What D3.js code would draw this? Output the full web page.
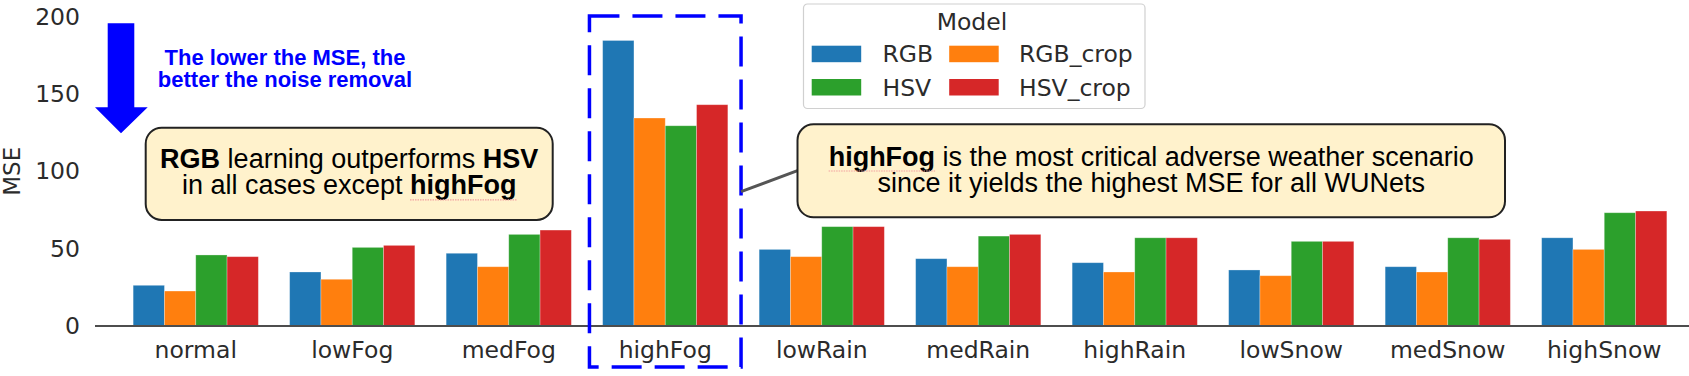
<!DOCTYPE html>
<html>
<head>
<meta charset="utf-8">
<script src="https://cdn.jsdelivr.net/npm/d3@7"></script>
<style>
  html, body { margin: 0; padding: 0; background: #fff; }
  svg { display: block; }
</style>
</head>
<body>
<svg id="chart" width="1689" height="376"></svg>
<script>
// ---- data ----
const categories = ["normal", "lowFog", "medFog", "highFog", "lowRain", "medRain", "highRain", "lowSnow", "medSnow", "highSnow"];
const seriesNames = ["RGB", "RGB_crop", "HSV", "HSV_crop"];
const seriesColors = ["#1f77b4", "#ff7f0e", "#2ca02c", "#d62728"];
const RGB      = [26.3, 34.9, 47.0, 184.5, 49.5, 43.5, 40.9, 36.2, 38.3, 57.0];
const RGB_crop = [22.6, 30.2, 38.3, 134.4, 44.8, 38.3, 34.9, 32.5, 34.9, 49.5];
const HSV      = [45.9, 50.8, 59.2, 129.4, 64.2, 58.1, 57.0, 54.7, 57.0, 73.2];
const HSV_crop = [44.8, 52.1, 62.0, 143.0, 64.2, 59.2, 57.0, 54.7, 56.0, 74.3];
const yTicks = [0, 50, 100, 150, 200];
const legendOrder = [["RGB", "RGB_crop"], ["HSV", "HSV_crop"]];

const seriesValues = { RGB, RGB_crop, HSV, HSV_crop };
const rows = categories.map((c, i) => ({ cat: c, values: seriesNames.map(s => ({ key: s, value: seriesValues[s][i] })) }));

// ---- layout ----
const svg = d3.select("#chart");
const W = 1689;
const axisLeft = 95;
const x = d3.scaleBand().domain(categories).range([117.5, 1682.5]).paddingInner(0.2).paddingOuter(0.1);
const xs = d3.scaleBand().domain(seriesNames).range([0, x.bandwidth()]).padding(0);
const y = d3.scaleLinear().domain([0, 200]).range([326, 16.5]);
const color = d3.scaleOrdinal().domain(seriesNames).range(seriesColors);
const textColor = "#2b2b2b";
const tickFont = "DejaVu Sans, Verdana, sans-serif";
const annFont = "Liberation Sans, Arial, Helvetica, sans-serif";

// ---- bars ----
const g = svg.append("g");
g.selectAll("g.grp").data(rows).join("g")
  .attr("class", "grp")
  .attr("transform", d => `translate(${x(d.cat)},0)`)
  .selectAll("rect").data(d => d.values).join("rect")
  .attr("x", d => xs(d.key))
  .attr("width", xs.bandwidth())
  .attr("y", d => y(d.value))
  .attr("height", d => y(0) - y(d.value))
  .attr("fill", d => color(d.key))
  .attr("stroke", "#ffffff")
  .attr("stroke-opacity", 0.35)
  .attr("stroke-width", 0.8);

// ---- x axis ----
const xAxis = svg.append("g").attr("transform", `translate(0,${y(0)})`)
  .call(d3.axisBottom(x).tickSize(0).tickPadding(10));
xAxis.select(".domain").remove();
xAxis.selectAll("text").attr("font-family", tickFont).attr("font-size", "23.5px").attr("fill", textColor).attr("dy", "0.95em");
svg.append("line").attr("x1", axisLeft).attr("x2", W).attr("y1", y(0)).attr("y2", y(0))
  .attr("stroke", "#4d4d4d").attr("stroke-width", 2);

// ---- y axis ----
const yAxis = svg.append("g").attr("transform", `translate(${axisLeft},0)`)
  .call(d3.axisLeft(y).tickValues(yTicks).tickSize(0).tickPadding(15));
yAxis.select(".domain").remove();
yAxis.selectAll("text").attr("font-family", tickFont).attr("font-size", "23.5px").attr("fill", textColor);
svg.append("text").attr("transform", `translate(20,${(y(0) + y(200)) / 2 + 0}) rotate(-90)`)
  .attr("text-anchor", "middle").attr("font-family", tickFont).attr("font-size", "23px").attr("fill", textColor)
  .text("MSE");

// ---- legend ----
const lg = svg.append("g");
lg.append("rect").attr("x", 803.5).attr("y", 4).attr("width", 341.5).attr("height", 104.5).attr("rx", 4)
  .attr("fill", "#fff").attr("fill-opacity", 0.85).attr("stroke", "#d0d0d0").attr("stroke-width", 1.2);
lg.append("text").attr("x", 972).attr("y", 30).attr("text-anchor", "middle")
  .attr("font-family", tickFont).attr("font-size", "23.5px").attr("fill", textColor).text("Model");
const colX = [[811.7, 882.5], [949.2, 1019]];
const rowY = [45.7, 79];
legendOrder.forEach((row, ri) => row.forEach((name, ci) => {
  lg.append("rect").attr("x", colX[ci][0]).attr("y", rowY[ri]).attr("width", 49.5).attr("height", 16.5)
    .attr("fill", color(name));
  lg.append("text").attr("x", colX[ci][1]).attr("y", rowY[ri] + 16.5)
    .attr("font-family", tickFont).attr("font-size", "23.5px").attr("fill", textColor).text(name);
}));

// ---- blue arrow + text ----
svg.append("path")
  .attr("d", "M107.7,23.3 L134.3,23.3 L134.3,107.3 L147.7,107.3 L121,133.3 L95,107.3 L107.7,107.3 Z")
  .attr("fill", "#0000ff");
const blueLines = ["The lower the MSE, the", "better the noise removal"];
blueLines.forEach((t, i) => svg.append("text").attr("x", 285).attr("y", 65 + i * 22.3)
  .attr("text-anchor", "middle").attr("font-family", annFont).attr("font-weight", "bold")
  .attr("font-size", "22px").attr("fill", "#0000ff").text(t));

// ---- dashed highlight around highFog ----
const hfc = x("highFog") + x.bandwidth() / 2;
svg.append("rect").attr("x", hfc - 75.8).attr("y", 16).attr("width", 151.6).attr("height", 351)
  .attr("fill", "none").attr("stroke", "#0000ff").attr("stroke-width", 3.5)
  .attr("stroke-dasharray", "30,13");

// ---- connector ----
svg.append("line").attr("x1", hfc + 75.8).attr("y1", 191.7).attr("x2", 797.5).attr("y2", 170.7)
  .attr("stroke", "#555").attr("stroke-width", 3);

// ---- annotation boxes ----
function annBox(bx, by, bw, bh, lines, baselines) {
  svg.append("rect").attr("x", bx).attr("y", by).attr("width", bw).attr("height", bh).attr("rx", 16)
    .attr("fill", "#fff2cc").attr("stroke", "#222").attr("stroke-width", 2);
  const cx = bx + bw / 2;
  lines.forEach((parts, i) => {
    const t = svg.append("text").attr("x", cx).attr("y", baselines[i]).attr("text-anchor", "middle")
      .attr("font-family", annFont).attr("font-size", "27px").attr("fill", "#000");
    parts.forEach(p => {
      const ts = t.append("tspan").attr("font-weight", p.b ? "bold" : "normal").text(p.t);
      if (p.u) ts.attr("data-u", "1");
    });
    t.selectAll("tspan[data-u]").each(function () {
      const bb = this.getBBox();
      svg.append("line").attr("x1", bb.x).attr("x2", bb.x + bb.width)
        .attr("y1", baselines[i] + 5.5).attr("y2", baselines[i] + 5.5)
        .attr("stroke", "#f2a0a0").attr("stroke-width", 1.2).attr("stroke-dasharray", "1.5,1");
    });
  });
}
annBox(145.7, 127.7, 407, 92.3,
  [[{ t: "RGB", b: true }, { t: " learning outperforms " }, { t: "HSV", b: true }],
   [{ t: "in all cases except " }, { t: "highFog", b: true, u: true }]],
  [167.7, 194.3]);
annBox(797.5, 124.3, 707.5, 93,
  [[{ t: "highFog", b: true, u: true }, { t: " is the most critical adverse weather scenario" }],
   [{ t: "since it yields the highest MSE for all WUNets" }]],
  [165.5, 191.5]);
</script>
</body>
</html>
